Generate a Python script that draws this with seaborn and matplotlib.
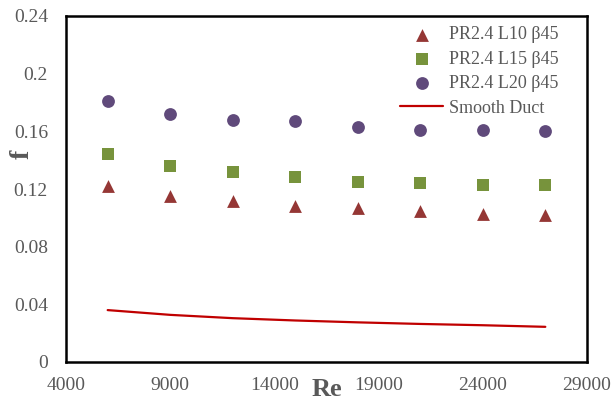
import numpy as np
import pandas as pd
import matplotlib
matplotlib.use("Agg")
import matplotlib.pyplot as plt
from matplotlib.ticker import MultipleLocator
import seaborn as sns

# Reynolds numbers of the test points
re_vals = [6000, 9000, 12000, 15000, 18000, 21000, 24000, 27000]

# friction factor
f_l10 = [0.122, 0.115, 0.112, 0.108, 0.107, 0.105, 0.103, 0.102]
f_l15 = [0.144, 0.136, 0.132, 0.128, 0.125, 0.124, 0.123, 0.123]
f_l20 = [0.181, 0.172, 0.168, 0.167, 0.163, 0.161, 0.161, 0.160]
f_smooth = [0.0360, 0.0327, 0.0304, 0.0288, 0.0275, 0.0264, 0.0255, 0.0244]

series_names = ["PR2.4 L10 \u03b245", "PR2.4 L15 \u03b245", "PR2.4 L20 \u03b245"]
smooth_name = "Smooth Duct"

x_ticks = [4000, 9000, 14000, 19000, 24000, 29000]
y_ticks = [0, 0.04, 0.08, 0.12, 0.16, 0.2, 0.24]
y_ticklabels = ["0", "0.04", "0.08", "0.12", "0.16", "0.2", "0.24"]

sns.set_style("white")
plt.rcParams["font.family"] = ["Liberation Serif", "DejaVu Serif"]

grey = "#595959"
colors = ["#953735", "#77933C", "#604A7B"]
markers = ["^", "s", "o"]
msize = 85

fig = plt.figure(figsize=(6.16, 4.04), dpi=100)
ax = fig.add_axes([66 / 616, 1 - 362 / 404, 521 / 616, 346 / 404])

for name, vals, c, m in zip(series_names, [f_l10, f_l15, f_l20], colors, markers):
    df = pd.DataFrame({"Re": re_vals, "f": vals})
    sns.scatterplot(data=df, x="Re", y="f", ax=ax, color=c, marker=m,
                    s=msize, linewidth=0, label=name, zorder=3)

smooth = pd.DataFrame({"Re": re_vals, "f": f_smooth})
sns.lineplot(data=smooth, x="Re", y="f", ax=ax, color="#C00000",
             linewidth=1.6, label=smooth_name)

ax.set_xlim(4000, 29000)
ax.set_ylim(0, 0.24)
ax.set_xticks(x_ticks)
ax.set_xticklabels([str(t) for t in x_ticks])
ax.set_yticks(y_ticks)
ax.set_yticklabels(y_ticklabels)
ax.xaxis.set_minor_locator(MultipleLocator(1000))
ax.yaxis.set_minor_locator(MultipleLocator(0.008))

ax.tick_params(which="both", direction="in", color="black", width=1.4,
               labelsize=14, labelcolor=grey, top=False, right=False)
ax.tick_params(which="major", length=6)
ax.tick_params(which="minor", length=4.5)
ax.tick_params(axis="y", which="major", pad=13)
ax.tick_params(axis="x", which="major", pad=11)

for sp in ax.spines.values():
    sp.set_color("black")
    sp.set_linewidth(1.8)
    sp.set_visible(True)

ax.set_xlabel("Re", fontsize=19, fontweight="bold", color=grey)
ax.set_ylabel("f", fontsize=20, fontweight="bold", color=grey)
ax.xaxis.set_label_coords(0.5, -0.045)
ax.yaxis.set_label_coords(-0.06, 0.6)

handles, labels = ax.get_legend_handles_labels()
leg = ax.legend(handles, labels, loc="upper left", bbox_to_anchor=(0.641, 0.97),
                frameon=False, fontsize=13, borderpad=0, borderaxespad=0,
                handlelength=2.4, handletextpad=0.3, labelspacing=0.41)
for h in leg.legend_handles[:3]:
    h.set_sizes([msize])
for t in leg.get_texts():
    t.set_color(grey)

fig.savefig("out.png", dpi=100)
